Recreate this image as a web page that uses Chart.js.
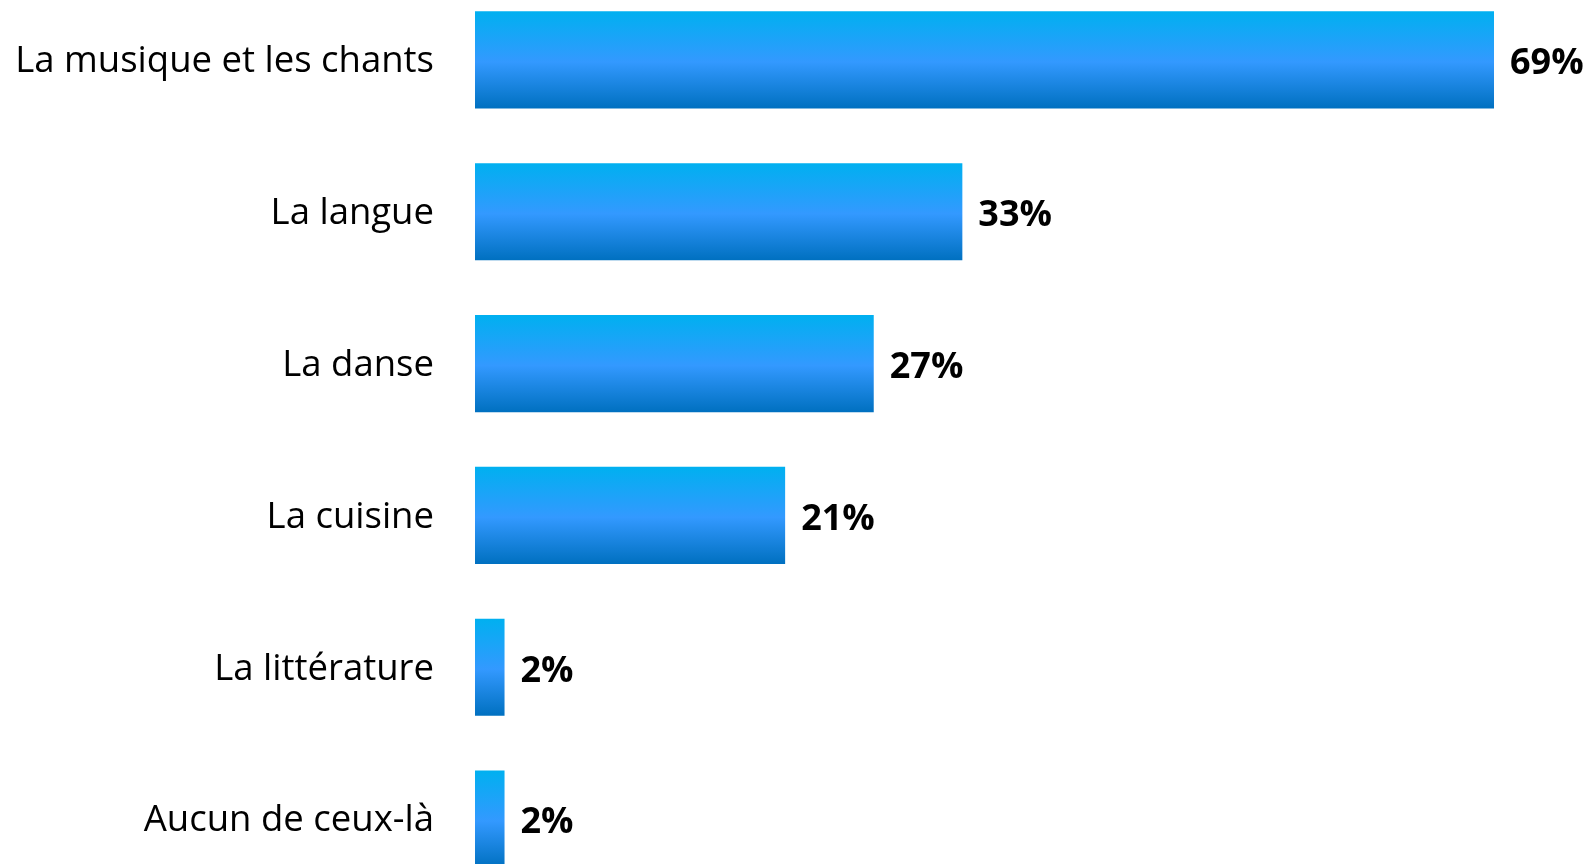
<!DOCTYPE html>
<html>
<head>
<meta charset="utf-8">
<script src="https://cdn.jsdelivr.net/npm/chart.js@4/dist/chart.umd.min.js"></script>
<style>
  html, body { margin: 0; padding: 0; background: #ffffff; overflow: hidden; width: 1590px; height: 864px; }
  #wrap { position: absolute; left: 0; top: -16.5px; width: 1590px; height: 911px; }
</style>
</head>
<body>
<div id="wrap"><canvas id="c"></canvas></div>
<script>
const categories = ["La musique et les chants", "La langue", "La danse", "La cuisine", "La littérature", "Aucun de ceux-là"];
const values = [69, 33, 27, 21, 2, 2];
const valueLabels = ["69%", "33%", "27%", "21%", "2%", "2%"];

const BAR_PCT = 0.64;

function barGradient(ctx) {
  const chart = ctx.chart;
  const yScale = chart.scales && chart.scales.y;
  if (!yScale || ctx.dataIndex === undefined) return '#3399FF';
  const center = yScale.getPixelForValue(ctx.dataIndex);
  const half = (yScale.height / categories.length) * BAR_PCT / 2;
  if (!isFinite(center) || !isFinite(half) || half <= 0) return '#3399FF';
  const g = chart.ctx.createLinearGradient(0, center - half, 0, center + half);
  g.addColorStop(0, '#00B0F0');
  g.addColorStop(0.52, '#3399FF');
  g.addColorStop(1, '#0070C0');
  return g;
}

const valueLabelPlugin = {
  id: 'valueLabels',
  afterDatasetsDraw(chart) {
    const ctx = chart.ctx;
    const meta = chart.getDatasetMeta(0);
    ctx.save();
    ctx.fillStyle = '#000000';
    ctx.font = 'bold 36px "Open Sans"';
    ctx.textAlign = 'left';
    ctx.textBaseline = 'middle';
    meta.data.forEach((bar, i) => {
      ctx.fillText(valueLabels[i], bar.x + 16, bar.y + 4);
    });
    ctx.restore();
  }
};

const chart = new Chart(document.getElementById('c'), {
  type: 'bar',
  data: {
    labels: categories,
    datasets: [{
      data: values,
      backgroundColor: barGradient,
      borderWidth: 0,
      categoryPercentage: 1,
      barPercentage: BAR_PCT
    }]
  },
  options: {
    indexAxis: 'y',
    responsive: true,
    maintainAspectRatio: false,
    animation: false,
    layout: { padding: 0 },
    plugins: { legend: { display: false }, tooltip: { enabled: false } },
    scales: {
      x: { display: false, min: 0, max: 75.5 },
      y: {
        afterFit(scale) {
          scale.width = 475;
          scale.paddingTop = 0;
          scale.paddingBottom = 0;
        },
        grid: { display: false, drawTicks: false },
        border: { display: false },
        ticks: { color: '#000000', font: { family: 'Open Sans', size: 36.5 }, padding: 41, labelOffset: 2 }
      }
    }
  },
  plugins: [valueLabelPlugin]
});
chart.update();
</script>
</body>
</html>
